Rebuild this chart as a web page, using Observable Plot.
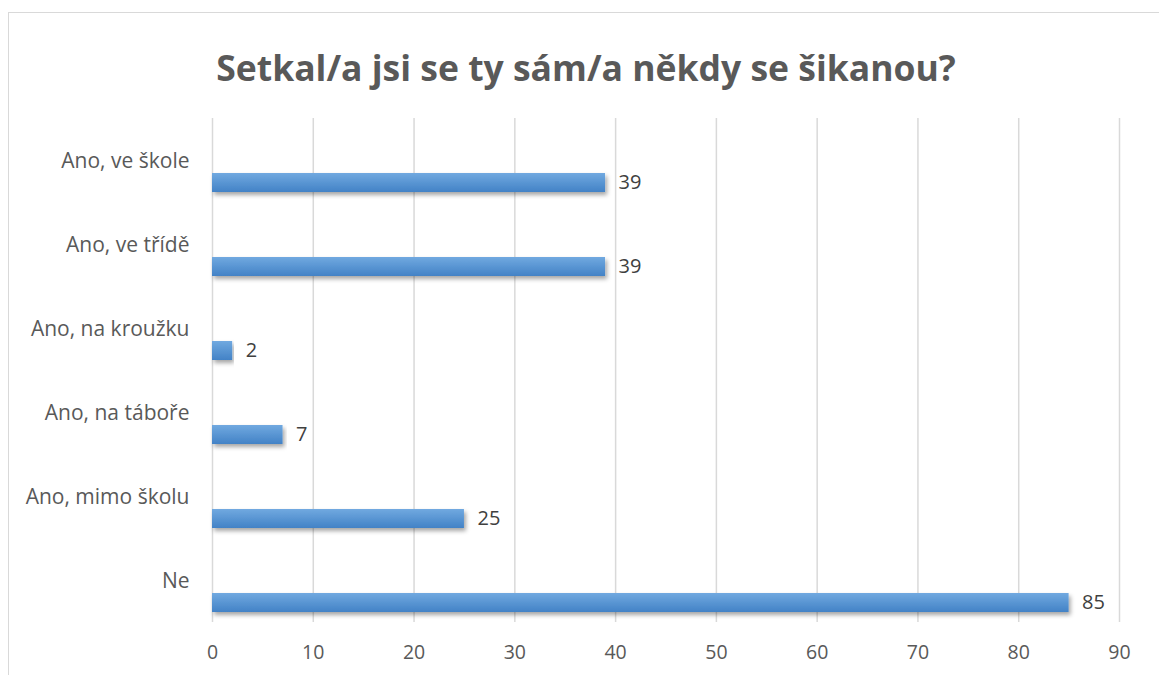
<!DOCTYPE html>
<html>
<head>
<meta charset="utf-8">
<script src="https://cdn.jsdelivr.net/npm/d3@7"></script>
<script src="https://cdn.jsdelivr.net/npm/@observablehq/plot@0.6"></script>
<style>
  html, body { margin: 0; padding: 0; background: #fff; overflow: hidden; }
  #page { position: relative; width: 1159px; height: 675px; overflow: hidden; font-family: "Open Sans", sans-serif; }
  #frame { position: absolute; left: 8px; top: 12px; width: 1300px; height: 800px; border: 1.5px solid #d9d9d9; box-sizing: border-box; }
  #title { position: absolute; left: 0; top: 0; width: 1172px; height: 100px; line-height: 134px; text-align: center;
           font-family: "Open Sans", sans-serif; font-weight: 700; font-size: 35.5px; color: #595959; }
  #chart { position: absolute; left: 0; top: 100px; }
</style>
</head>
<body>
<div id="page">
  <div id="frame"></div>
  <div id="title">Setkal/a jsi se ty sám/a někdy se šikanou?</div>
  <div id="chart"></div>
</div>
<script>
const categories = ["Ano, ve škole", "Ano, ve třídě", "Ano, na kroužku", "Ano, na táboře", "Ano, mimo školu", "Ne"];
const values = [39, 39, 2, 7, 25, 85];
const xTicks = [0, 10, 20, 30, 40, 50, 60, 70, 80, 90];

const data = categories.map((c, i) => ({category: c, value: values[i]}));

const defs = () => {
  const ns = "http://www.w3.org/2000/svg";
  const d = document.createElementNS(ns, "defs");
  d.innerHTML = `
    <linearGradient id="barGrad" x1="0" y1="0" x2="0" y2="1">
      <stop offset="0" stop-color="#71a9e0"/>
      <stop offset="1" stop-color="#4282c6"/>
    </linearGradient>
    <filter id="shadow" x="-5%" y="-40%" width="110%" height="200%">
      <feDropShadow dx="2" dy="3" stdDeviation="2" flood-color="#000" flood-opacity="0.35"/>
    </filter>`;
  return d;
};

const chart = Plot.plot({
  width: 1159,
  height: 575,
  marginTop: 18,
  marginBottom: 53,
  marginLeft: 212,
  marginRight: 40,
  style: {fontFamily: "'Open Sans', sans-serif", background: "transparent"},
  x: {domain: [0, 90], ticks: xTicks},
  y: {domain: categories, padding: 0},
  marks: [
    defs,
    Plot.gridX(xTicks, {stroke: "#d9d9d9", strokeOpacity: 1, strokeWidth: 1.5}),
    Plot.axisX({ticks: xTicks, tickSize: 0, tickPadding: 23, fontSize: 19.5, color: "#595959", label: null}),
    Plot.axisY({tickSize: 0, tickPadding: 23, fontSize: 21, color: "#595959", label: null, dy: 1}),
    Plot.barX(data, {x: "value", y: "category", fill: "url(#barGrad)", insetTop: 55, insetBottom: 10}),
    Plot.text(data, {x: "value", y: "category", text: d => String(d.value), dx: 13, dy: 22, textAnchor: "start", fontSize: 20, fill: "#404040"})
  ]
});
chart.querySelectorAll("g[aria-label='bar'] rect").forEach(r => r.setAttribute("filter", "url(#shadow)"));
document.getElementById("chart").appendChild(chart);
</script>
</body>
</html>
